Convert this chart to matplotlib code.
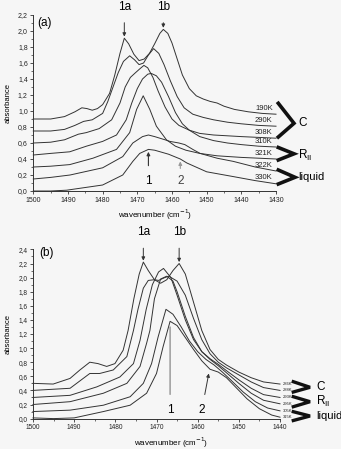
import matplotlib
matplotlib.use("Agg")
import matplotlib.pyplot as plt
from matplotlib.lines import Line2D
from matplotlib.ticker import MultipleLocator, FuncFormatter

# ---------------- data: panel (a) ----------------
a_labels = ["190K", "290K", "308K", "310K", "321K", "322K", "330K"]
a_190_wn = [1500, 1495, 1491, 1488, 1486, 1484.5, 1483, 1481.5, 1480, 1478, 1476.5, 1475, 1473.75, 1472.5, 1471, 1469.5, 1468, 1466.5, 1465, 1463.5, 1462.5, 1461.2, 1460, 1458.5, 1457, 1455, 1453, 1451, 1449, 1447, 1445, 1442, 1438, 1434, 1430]
a_190_ab = [0.90, 0.90, 0.93, 0.99, 1.04, 1.03, 1.01, 1.03, 1.08, 1.22, 1.45, 1.72, 1.91, 1.84, 1.71, 1.63, 1.65, 1.72, 1.84, 1.97, 2.02, 1.97, 1.85, 1.65, 1.45, 1.28, 1.19, 1.15, 1.12, 1.10, 1.06, 1.02, 0.99, 0.97, 0.96]
a_290_wn = [1500, 1495, 1491, 1488, 1485.5, 1483, 1480, 1478.5, 1477, 1475.5, 1474, 1472.2, 1470.8, 1469.5, 1468.2, 1466.8, 1465.3, 1463.8, 1462.3, 1460.5, 1458.5, 1456.5, 1454, 1451, 1448, 1444, 1440, 1435, 1430]
a_290_ab = [0.75, 0.75, 0.77, 0.82, 0.87, 0.89, 0.97, 1.12, 1.30, 1.48, 1.62, 1.69, 1.64, 1.58, 1.60, 1.70, 1.78, 1.72, 1.58, 1.38, 1.18, 1.04, 0.96, 0.92, 0.89, 0.86, 0.84, 0.82, 0.81]
a_308_wn = [1500, 1495, 1491, 1487, 1484.7, 1481, 1477.4, 1475, 1473.5, 1472, 1470.5, 1469.2, 1468.1, 1467, 1465.5, 1464, 1462, 1460, 1458, 1455, 1452, 1448, 1444, 1440, 1435, 1430]
a_308_ab = [0.60, 0.61, 0.64, 0.71, 0.73, 0.78, 0.89, 1.10, 1.30, 1.42, 1.48, 1.53, 1.57, 1.54, 1.42, 1.25, 1.05, 0.90, 0.82, 0.76, 0.72, 0.70, 0.69, 0.68, 0.67, 0.66]
a_310_wn = [1500, 1495, 1489.5, 1484.7, 1480, 1476, 1473.2, 1471.6, 1470, 1468.5, 1467, 1466, 1464.5, 1463, 1461, 1459, 1457, 1455, 1452, 1448, 1444, 1440, 1435, 1430]
a_310_ab = [0.45, 0.47, 0.49, 0.56, 0.62, 0.70, 0.89, 1.10, 1.28, 1.40, 1.46, 1.47, 1.44, 1.36, 1.18, 0.98, 0.84, 0.76, 0.68, 0.63, 0.60, 0.58, 0.56, 0.55]
a_321_wn = [1500, 1495, 1489.5, 1482.8, 1476, 1472.2, 1470.2, 1468.3, 1466.4, 1464.5, 1461.6, 1459, 1456, 1452, 1447, 1440, 1435, 1430]
a_321_ab = [0.30, 0.31, 0.33, 0.41, 0.52, 0.73, 1.02, 1.19, 1.02, 0.81, 0.64, 0.56, 0.51, 0.47, 0.44, 0.42, 0.41, 0.40]
a_322_wn = [1500, 1495, 1489.4, 1480, 1474.2, 1471.3, 1468.5, 1466.8, 1465, 1462, 1460.6, 1458, 1456.3, 1454, 1451.9, 1447, 1442.3, 1436, 1430]
a_322_ab = [0.15, 0.17, 0.20, 0.29, 0.43, 0.60, 0.68, 0.70, 0.68, 0.64, 0.62, 0.60, 0.58, 0.52, 0.47, 0.41, 0.37, 0.30, 0.25]
a_330_wn = [1500, 1495, 1490.4, 1480, 1474.2, 1471.3, 1469.3, 1466.8, 1465, 1461, 1457.6, 1455.7, 1450, 1442.3, 1436, 1430]
a_330_ab = [0.0, 0.0, 0.01, 0.075, 0.20, 0.37, 0.47, 0.52, 0.51, 0.46, 0.40, 0.35, 0.24, 0.18, 0.13, 0.09]

# ---------------- data: panel (b) ----------------
b_labels = ["286K", "288K", "293K", "295K", "305K", "315K"]
b_286_wn = [1500, 1495.1, 1491, 1488.6, 1486.2, 1484.2, 1482.1, 1480.1, 1478.1, 1476.9, 1475.5, 1474.2, 1473.2, 1472, 1470.5, 1469, 1467.5, 1466, 1464.5, 1463, 1461, 1459, 1457, 1455, 1453, 1450, 1447, 1444, 1440]
b_286_ab = [0.50, 0.49, 0.57, 0.69, 0.80, 0.78, 0.74, 0.78, 0.97, 1.25, 1.70, 2.05, 2.22, 2.10, 1.97, 1.92, 1.97, 2.10, 2.20, 2.05, 1.65, 1.25, 0.98, 0.84, 0.76, 0.66, 0.58, 0.52, 0.49]
b_288_wn = [1500, 1491, 1486.2, 1483.8, 1480.5, 1477.2, 1475.6, 1474.5, 1473.2, 1472, 1470.5, 1469.5, 1468, 1467, 1465, 1463, 1461, 1459, 1457, 1455, 1453, 1450, 1447, 1444, 1440]
b_288_ab = [0.40, 0.43, 0.64, 0.64, 0.69, 0.88, 1.25, 1.55, 1.85, 1.96, 1.97, 1.96, 2.00, 2.02, 1.95, 1.75, 1.42, 1.12, 0.92, 0.80, 0.72, 0.62, 0.52, 0.44, 0.40]
b_293_wn = [1500, 1491, 1484.5, 1478.9, 1475.6, 1474, 1472.5, 1471, 1469.5, 1468.3, 1466.5, 1465, 1463, 1461, 1459, 1457, 1455, 1453, 1450, 1447, 1444, 1440]
b_293_ab = [0.30, 0.33, 0.45, 0.59, 0.78, 1.11, 1.55, 1.90, 2.08, 2.13, 2.00, 1.75, 1.40, 1.12, 0.95, 0.85, 0.77, 0.68, 0.55, 0.43, 0.34, 0.30]
b_295_wn = [1500, 1491, 1482.9, 1477.2, 1474, 1472.4, 1471.6, 1470.5, 1469, 1467.5, 1466, 1465, 1463, 1461, 1459, 1457, 1455, 1453, 1450, 1447, 1444, 1440]
b_295_ab = [0.20, 0.24, 0.36, 0.50, 0.74, 1.07, 1.25, 1.70, 1.98, 2.02, 1.95, 1.80, 1.45, 1.15, 0.95, 0.84, 0.75, 0.65, 0.50, 0.36, 0.26, 0.21]
b_305_wn = [1500, 1491, 1482.9, 1476.4, 1473.2, 1471.2, 1469.6, 1467.7, 1466, 1464, 1462, 1460, 1458, 1456, 1454, 1452, 1449, 1446, 1443, 1440]
b_305_ab = [0.10, 0.12, 0.19, 0.31, 0.50, 0.78, 1.16, 1.55, 1.48, 1.30, 1.10, 0.95, 0.84, 0.76, 0.66, 0.55, 0.38, 0.24, 0.15, 0.11]
b_315_wn = [1500, 1495, 1490, 1482.9, 1476.4, 1472.4, 1470, 1468.4, 1466.7, 1465, 1463, 1461, 1459, 1457, 1455, 1453, 1451, 1448, 1445, 1442, 1440]
b_315_ab = [0.01, 0.0, 0.01, 0.10, 0.19, 0.36, 0.64, 1.02, 1.38, 1.32, 1.15, 0.98, 0.82, 0.70, 0.66, 0.58, 0.46, 0.28, 0.14, 0.05, 0.02]

a_series = [(a_190_wn, a_190_ab), (a_290_wn, a_290_ab), (a_308_wn, a_308_ab), (a_310_wn, a_310_ab),
            (a_321_wn, a_321_ab), (a_322_wn, a_322_ab), (a_330_wn, a_330_ab)]
b_series = [(b_286_wn, b_286_ab), (b_288_wn, b_288_ab), (b_293_wn, b_293_ab), (b_295_wn, b_295_ab),
            (b_305_wn, b_305_ab), (b_315_wn, b_315_ab)]

# ---------------- figure ----------------
W, H = 341, 449
BG = "#f6f6f6"
LC = "#333333"
fig = plt.figure(figsize=(W / 100, H / 100), dpi=100, facecolor=BG)
plt.rcParams['font.family'] = ['Liberation Sans', 'DejaVu Sans']

def fx(x):
    return x / W

def fy(y):
    return 1 - y / H

def axes_px(x0, x1, y_top, y_bot):
    return fig.add_axes([fx(x0), fy(y_bot), fx(x1) - fx(x0), fy(y_top) - fy(y_bot)])

comma = FuncFormatter(lambda v, p: ("%.1f" % v).replace(".", ","))

def style(ax, xlim, ylim, lsize=5):
    ax.set_facecolor(BG)
    ax.set_xlim(*xlim)
    ax.set_ylim(*ylim)
    for s in ("top", "right"):
        ax.spines[s].set_visible(False)
    for s in ("left", "bottom"):
        ax.spines[s].set_linewidth(0.7)
        ax.spines[s].set_color(LC)
    ax.xaxis.set_major_locator(MultipleLocator(10))
    ax.xaxis.set_minor_locator(MultipleLocator(5))
    ax.yaxis.set_major_locator(MultipleLocator(0.2))
    ax.yaxis.set_minor_locator(MultipleLocator(0.1))
    ax.yaxis.set_major_formatter(comma)
    ax.tick_params(axis="both", which="major", length=2.5, width=0.6, labelsize=lsize, color=LC, labelcolor="#222222", pad=1.5)
    ax.tick_params(axis="both", which="minor", length=1.5, width=0.5, color=LC)

arrow_dark = dict(arrowstyle="-|>", color=LC, lw=0.7, mutation_scale=5, shrinkA=5, shrinkB=0)

# ---- panel (a) ----
axA = axes_px(33.3, 276, 15, 191)
style(axA, (1500, 1430), (0, 2.2))
for wn, ab in a_series:
    axA.plot(wn, ab, color=LC, lw=0.7, clip_on=False)
for lab, (wn, ab) in zip(a_labels, a_series):
    axA.text(1433.5, ab[-1] + 0.03, lab, fontsize=5.5, ha="center", va="bottom", color="#222222")

axA.annotate("1a", xy=(a_190_wn[12], a_190_ab[12] + 0.02), xytext=(a_190_wn[12], 2.30),
             ha="center", va="center", fontsize=8.5, annotation_clip=False, arrowprops=arrow_dark)
axA.annotate("1b", xy=(a_190_wn[20], a_190_ab[20] + 0.02), xytext=(a_190_wn[20], 2.30),
             ha="center", va="center", fontsize=8.5, annotation_clip=False, arrowprops=arrow_dark)
axA.annotate("1", xy=(a_330_wn[7], a_330_ab[7] - 0.03), xytext=(a_330_wn[7], 0.12),
             ha="center", va="center", fontsize=8.5,
             arrowprops=dict(arrowstyle="-|>", color=LC, lw=0.8, mutation_scale=5, shrinkA=5, shrinkB=0))
axA.annotate("2", xy=(a_330_wn[10], a_330_ab[10] - 0.03), xytext=(a_330_wn[10], 0.12),
             ha="center", va="center", fontsize=8.5, color="#444444",
             arrowprops=dict(arrowstyle="-|>", color="#999999", lw=0.8, mutation_scale=5, shrinkA=3, shrinkB=0))
fig.text(fx(45), fy(23), "(a)", fontsize=8.5, ha="center", va="center")
fig.text(fx(8), fy(103), "absorbance", fontsize=5.5, rotation=90, ha="center", va="center")
fig.text(fx(155), fy(215), "wavenumber (cm$^{-1}$)", fontsize=5.8, ha="center", va="center")

# ---- panel (b) ----
axB = axes_px(33, 280, 249.4, 418.6)
style(axB, (1500, 1440), (0, 2.4), lsize=4.7)
for wn, ab in b_series:
    axB.plot(wn, ab, color=LC, lw=0.7, clip_on=False)
for lab, (wn, ab) in zip(b_labels, b_series):
    axB.text(1439.2, ab[-1], lab, fontsize=3, ha="left", va="center", color="#222222")

axB.annotate("1a", xy=(b_286_wn[12], b_286_ab[12] + 0.02), xytext=(b_286_wn[12], 2.64),
             ha="center", va="center", fontsize=8.5, annotation_clip=False, arrowprops=arrow_dark)
axB.annotate("1b", xy=(b_286_wn[18], b_286_ab[18] + 0.02), xytext=(b_286_wn[18], 2.64),
             ha="center", va="center", fontsize=8.5, annotation_clip=False, arrowprops=arrow_dark)
axB.annotate("1", xy=(b_315_wn[8], b_315_ab[8] - 0.08), xytext=(b_315_wn[8], 0.12),
             ha="center", va="center", fontsize=8.5,
             arrowprops=dict(arrowstyle="-", color="#888888", lw=0.9, shrinkA=5, shrinkB=0))
axB.annotate("2", xy=(b_315_wn[13] + 0.3, b_315_ab[13] - 0.06), xytext=(b_315_wn[13] + 2, 0.12),
             ha="center", va="center", fontsize=8.5, arrowprops=arrow_dark)
fig.text(fx(46.7), fy(253.3), "(b)", fontsize=8.5, ha="center", va="center")
fig.text(fx(8), fy(334), "absorbance", fontsize=5.5, rotation=90, ha="center", va="center")
fig.text(fx(171), fy(443), "wavenumber (cm$^{-1}$)", fontsize=5.8, ha="center", va="center")

# ---- phase brackets ----
def chevron(x0, y0, x1, y1, y2, lw=2.6):
    fig.add_artist(Line2D([fx(x0), fx(x1), fx(x0)], [fy(y0), fy(y1), fy(y2)],
                          color="#111111", lw=lw, solid_joinstyle="miter", transform=fig.transFigure))

chevron(278.3, 103.3, 294, 123.3, 137)
chevron(278.3, 147.5, 294, 153.8, 160)
chevron(278.3, 170, 295, 177.3, 184)
fig.text(fx(298), fy(123.3), "C", fontsize=8.5, ha="left", va="center")
fig.text(fx(298), fy(155), "R$_{\\mathregular{II}}$", fontsize=8.5, ha="left", va="center")
fig.text(fx(298), fy(177.3), "liquid", fontsize=8, ha="left", va="center")

chevron(293.3, 381.7, 310, 387.3, 392, lw=2.4)
chevron(293.3, 396.7, 310, 401.7, 406.7, lw=2.4)
chevron(293.3, 411.7, 310, 416, 420.5, lw=2.4)
fig.text(fx(316), fy(386.7), "C", fontsize=8.5, ha="left", va="center")
fig.text(fx(316), fy(401.7), "R$_{\\mathregular{II}}$", fontsize=8.5, ha="left", va="center")
fig.text(fx(316), fy(416), "liquid", fontsize=8, ha="left", va="center")

fig.savefig("out.png", dpi=100, facecolor=BG)
